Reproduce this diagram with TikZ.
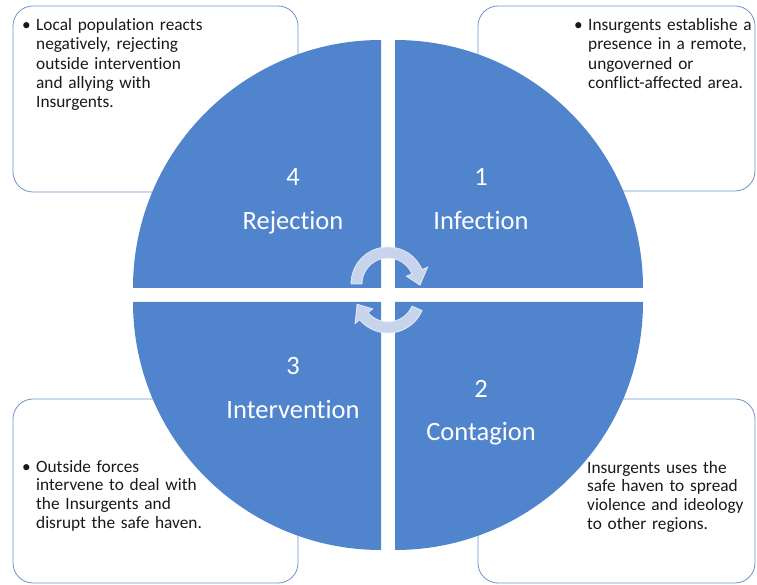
\documentclass[tikz,border=0pt]{standalone}
\usepackage{fontspec}
\setmainfont{Carlito}[Ligatures={NoCommon,NoContextual}]
\usetikzlibrary{positioning}
\definecolor{pieblue}{RGB}{80,132,205}
\definecolor{boxline}{RGB}{112,146,205}
\definecolor{turnfill}{RGB}{200,212,235}
\definecolor{turnline}{RGB}{228,234,246}
\definecolor{bodytext}{RGB}{25,25,25}
\newcommand{\notebullet}{\makebox[14pt][l]{\textbullet}}
\newcommand{\noteindent}{\hspace*{14pt}}

\begin{document}
\begin{tikzpicture}
    [
    x=1pt,y=1pt,
    quad/.style = {fill=pieblue},
    note/.style = {draw=boxline,line width=0.8pt,rounded corners=20pt,fill=white},
    turn/.style = {fill=turnfill,draw=turnline,line width=0.8pt},
    quadtext/.style = {text=white,text width=200pt,align=center,anchor=base,inner sep=0pt,font=\fontsize{26.5}{43.5}\selectfont},
    notetext/.style = {text=bodytext,text width=200pt,align=left,anchor=base west,inner sep=0pt,font=\fontsize{17.3}{#1}\selectfont},
    notetext/.default = 19.3
    ]
\useasboundingbox (0,0) rectangle (757,584);

% note boxes behind the circle
\draw[note] (13,392) rectangle (298,578);
\draw[note] (478,393) rectangle (755,578);
\draw[note] (13,1) rectangle (298,185);
\draw[note] (478,1) rectangle (755,185);

% four quarters
\foreach \dx/\dy/\a in {7/7/0, -7/7/90, -7/-7/180, 7/-7/270}
    \fill[quad] (388+\dx,289+\dy) -- ++(\a:248) arc[start angle=\a, end angle=\a+90, radius=248] -- cycle;

% circular arrows
\begin{scope}[shift={(388,300)}]
\filldraw[turn] (180:37) arc[start angle=180, end angle=23, radius=37]
    -- (23:43) -- (-2:32) -- (23:20) -- (23:26)
    arc[start angle=23, end angle=180, radius=26] -- cycle;
\end{scope}
\begin{scope}[shift={(388,288)}]
\filldraw[turn] (-23:37) arc[start angle=-23, end angle=-140, radius=37]
    -- (-140:43) -- (-165:32) -- (-140:20) -- (-140:26)
    arc[start angle=-140, end angle=-23, radius=26] -- cycle;
\end{scope}

\node[quadtext] (s4) at (293,398) {4\\Rejection};
\node[quadtext] (s1) at (481,398) {1\\Infection};
\node[quadtext] (s3) at (293,209) {3\\Intervention};
\node[quadtext] (s2) at (481,187) {2\\Contagion};

\node[notetext] (n4) at (22,553.3) {\notebullet Local population reacts\\\noteindent negatively, rejecting\\\noteindent outside intervention\\\noteindent and allying with\\\noteindent Insurgents.};
\node[notetext] (n1) at (574,553.3) {\notebullet Insurgents establishe a\\\noteindent presence in a remote,\\\noteindent ungoverned or\\\noteindent conflict-affected area.};
\node[notetext=18.6] (n3) at (22,111.7) {\notebullet Outside forces\\\noteindent intervene to deal with\\\noteindent the Insurgents and\\\noteindent disrupt the safe haven.};
\node[notetext=18.6] (n2) at (587,110.7) {Insurgents uses the\\safe haven to spread\\violence and ideology\\to other regions.};
\end{tikzpicture}
\end{document}
